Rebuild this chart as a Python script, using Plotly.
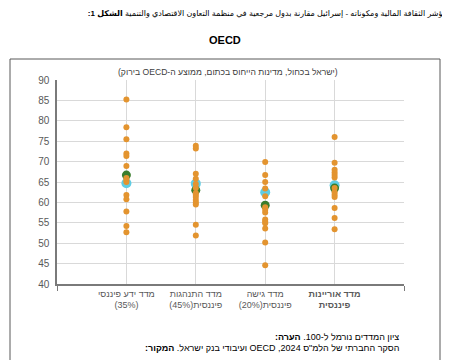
import plotly.graph_objects as go

RLE, PDF = "\u202B", "\u202C"
def rtl(s):
    return RLE + s + PDF

categories = ["מדד ידע פיננסי|(35%)", "מדד התנהגות|פיננסית(45%)", "מדד גישה|פיננסית(20%)", "מדד אוריינות|פיננסית"]
bold_category = [False, False, False, True]

reference_values = [
    [85.2, 78.4, 75.5, 72.0, 71.4, 68.9, 66.0, 65.5, 65.0, 61.8, 60.8, 57.8, 54.2, 52.7],
    [73.9, 73.2, 67.0, 65.8, 64.5, 63.5, 62.3, 61.9, 61.3, 60.6, 60.0, 59.5, 54.5, 51.9],
    [69.9, 66.7, 65.0, 63.4, 61.5, 58.8, 58.2, 57.5, 55.8, 55.3, 54.9, 53.6, 50.2, 44.6],
    [76.0, 69.7, 68.0, 67.3, 66.7, 66.1, 63.5, 62.5, 61.9, 61.3, 58.6, 56.2, 53.4],
]
israel_values = [64.7, 64.6, 62.5, 64.2]
oecd_values = [66.7, 63.0, 59.3, 63.5]
y_ticks = [40, 45, 50, 55, 60, 65, 70, 75, 80, 85, 90]

positions = list(range(1, len(categories) + 1))
ticktext = []
for c, b in zip(categories, bold_category):
    lines = [rtl(l) for l in c.split("|")]
    if b:
        lines = ["<b>" + l + "</b>" for l in lines]
    ticktext.append("<br>".join(lines))

ref_x, ref_y = [], []
for p, vals in zip(positions, reference_values):
    for v in vals:
        ref_x.append(p)
        ref_y.append(v)

FONT = "Arial, Liberation Sans, DejaVu Sans, sans-serif"

# page has an 8px body margin: figure coordinates = window coordinates - 8
W, H = 442, 352
L, R, T, B = 49, 396, 72, 276  # plot area in figure px
PW, PH = R - L, B - T

def px(x):
    return (x - 8 - L) / PW

def py(y):
    return (B - (y - 8)) / PH

fig = go.Figure()
fig.add_trace(go.Scatter(x=positions, y=israel_values, mode="markers",
                         marker=dict(size=10, color="#5FCDE4"), hoverinfo="skip"))
fig.add_trace(go.Scatter(x=positions, y=oecd_values, mode="markers",
                         marker=dict(size=9, color="#3A7D2C"), hoverinfo="skip"))
fig.add_trace(go.Scatter(x=ref_x, y=ref_y, mode="markers",
                         marker=dict(size=6, color="#E3942F"), hoverinfo="skip"))

title_rest = "مؤشر الثقافة المالية ومكوناته - إسرائيل مقارنة بدول مرجعية في منظمة التعاون الاقتصادي والتنمية"
title_label = "الشكل 1:"

fig.update_layout(
    width=W, height=H,
    margin=dict(l=L, r=W - R, t=T, b=H - B),
    paper_bgcolor="white", plot_bgcolor="white",
    showlegend=False,
    font=dict(family=FONT, color="#595959"),
    title=dict(text=rtl(title_rest) + " <b>" + rtl(title_label) + "</b>",
               xref="container", yref="container",
               x=(447 - 8) / W, y=1 - (13 - 8) / H,
               xanchor="right", yanchor="middle",
               font=dict(size=8.0, color="black", family=FONT)),
    xaxis=dict(range=[0, 5], tickmode="array", tickvals=positions, ticktext=ticktext,
               showgrid=True, gridcolor="#D9D9D9", gridwidth=1, zeroline=False,
               showline=True, linecolor="#7A7A7A", linewidth=1.5, ticks="",
               tickfont=dict(size=9, color="#595959"), ticklabelstandoff=0,
               minor=dict(tickmode="array", tickvals=[0, 5], ticks="outside", ticklen=5,
                          tickcolor="#7A7A7A", showgrid=True, gridcolor="#D9D9D9")),
    yaxis=dict(range=[40, 90], tickmode="array", tickvals=y_ticks,
               showgrid=True, gridcolor="#D9D9D9", gridwidth=1, zeroline=False,
               showline=True, linecolor="#7A7A7A", linewidth=1.5, ticks="",
               tickfont=dict(size=10, color="#595959"), ticklabelstandoff=4),
)

# frame
top = py(59)
fig.add_shape(type="line", xref="paper", yref="paper", x0=px(10), x1=px(440), y0=top, y1=top,
              line=dict(color="#595959", width=1))
fig.add_shape(type="line", xref="paper", yref="paper", x0=px(10), x1=px(10), y0=py(400), y1=top,
              line=dict(color="#595959", width=1))
fig.add_shape(type="line", xref="paper", yref="paper", x0=px(440), x1=px(440), y0=py(400), y1=top,
              line=dict(color="#595959", width=1))

fig.add_annotation(text="<b>OECD</b>", xref="paper", yref="paper", x=px(225), y=py(40),
                   xanchor="center", yanchor="middle", showarrow=False,
                   font=dict(size=11, color="black", family=FONT))
fig.add_annotation(text=rtl("(ישראל בכחול, מדינות הייחוס בכתום, ממוצע ה-OECD בירוק)"),
                   xref="paper", yref="paper", x=px(228), y=py(72),
                   xanchor="center", yanchor="middle", showarrow=False,
                   font=dict(size=8.6, color="#404040", family=FONT))
fig.add_annotation(text=rtl("ציון המדדים נורמל ל-100.") + " <b>" + rtl("הערה:") + "</b>",
                   xref="paper", yref="paper", x=px(401), y=py(337),
                   xanchor="right", yanchor="middle", align="right", showarrow=False,
                   font=dict(size=9, color="black", family=FONT))
fig.add_annotation(text=rtl("הסקר החברתי של הלמ\"ס 2024, OECD ועיבודי בנק ישראל.") + " <b>" + rtl("המקור:") + "</b>",
                   xref="paper", yref="paper", x=px(401), y=py(348),
                   xanchor="right", yanchor="middle", align="right", showarrow=False,
                   font=dict(size=9, color="black", family=FONT))

fig.write_html("out.html")
